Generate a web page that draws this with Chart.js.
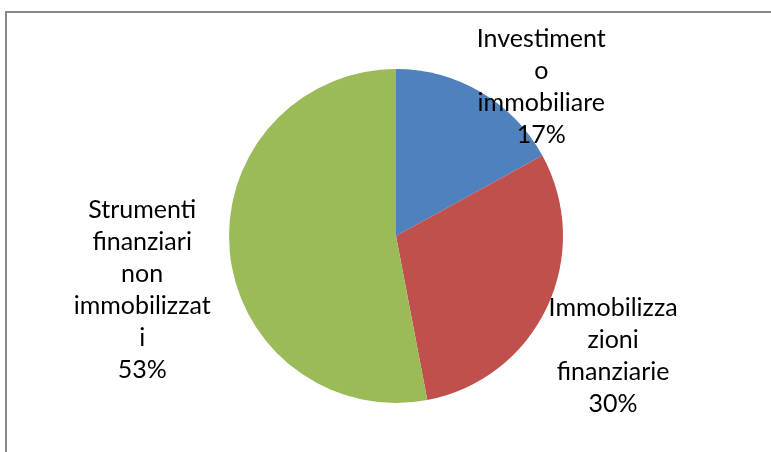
<!DOCTYPE html>
<html>
<head>
<meta charset="utf-8">
<script src="https://cdn.jsdelivr.net/npm/chart.js@4.4.0/dist/chart.umd.min.js"></script>
<style>
  html, body { margin: 0; padding: 0; background: #fff; }
  #wrap { width: 771px; height: 452px; position: relative; }
</style>
</head>
<body>
<div id="wrap"><canvas id="torta"></canvas></div>
<script>
// dati del grafico
const categorie = ['Investimento immobiliare', 'Immobilizzazioni finanziarie', 'Strumenti finanziari non immobilizzati'];
const valori = [17, 30, 53];
const etichette = [
	['Investiment', 'o', 'immobiliare', '17%'],
	['Immobilizza', 'zioni', 'finanziarie', '30%'],
	['Strumenti', 'finanziari', 'non', 'immobilizzat', 'i', '53%']
];
const colori = ['#4F81BD', '#C0504D', '#9BBB59'];

// posizione del centro di ogni etichetta, in raggi rispetto al centro della torta
const offsetEtichette = [
	[0.87, -0.89],
	[1.30, 0.72],
	[-1.52, 0.32]
];

const cornice = {
	id: 'cornice',
	beforeDraw(chart) {
		const c = chart.ctx;
		c.save();
		c.fillStyle = '#fff';
		c.fillRect(0, 0, chart.width, chart.height);
		c.strokeStyle = '#888888';
		c.lineWidth = 2;
		c.beginPath();
		c.moveTo(6, chart.height);
		c.lineTo(6, 12);
		c.lineTo(chart.width, 12);
		c.stroke();
		c.restore();
	}
};

const etichetteFuori = {
	id: 'etichetteFuori',
	afterDatasetsDraw(chart) {
		const c = chart.ctx;
		const archi = chart.getDatasetMeta(0).data;
		c.save();
		c.fillStyle = '#000';
		c.font = '25px Lato';
		c.textAlign = 'center';
		c.textBaseline = 'middle';
		const passo = 32;
		archi.forEach(function (arco, i) {
			const r = arco.outerRadius;
			const cx = arco.x + offsetEtichette[i][0] * r;
			const cy = arco.y + offsetEtichette[i][1] * r;
			const righe = etichette[i];
			const y0 = cy - (righe.length - 1) * passo / 2;
			righe.forEach(function (riga, k) {
				c.fillText(riga, cx, y0 + k * passo);
			});
		});
		c.restore();
	}
};

new Chart(document.getElementById('torta'), {
	type: 'pie',
	data: {
		labels: categorie,
		datasets: [{
			data: valori,
			backgroundColor: colori,
			borderWidth: 0
		}]
	},
	options: {
		responsive: true,
		maintainAspectRatio: false,
		animation: false,
		layout: {
			padding: { left: 21, right: 0, top: 69, bottom: 49 }
		},
		plugins: {
			legend: { display: false },
			tooltip: { enabled: false }
		}
	},
	plugins: [cornice, etichetteFuori]
});
</script>
</body>
</html>
